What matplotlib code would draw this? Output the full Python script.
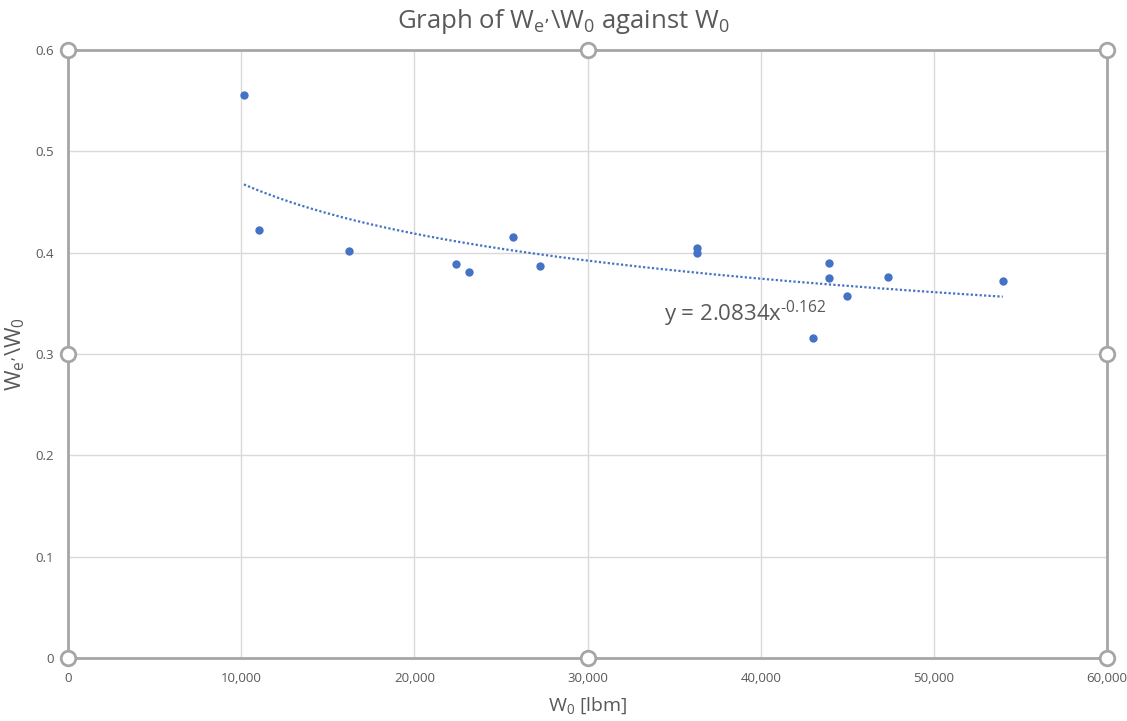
import numpy as np
import matplotlib
matplotlib.use("Agg")
import matplotlib.pyplot as plt
from matplotlib.ticker import FuncFormatter

plt.rcParams['font.family'] = ['Open Sans', 'DejaVu Sans']
plt.rcParams['mathtext.default'] = 'regular'

# Data (W0 in lbm, We'/W0 ratio)
w0 = [10160, 11030, 16230, 22410, 23160, 25700, 27260, 36320, 36320,
      43020, 43950, 43950, 44970, 47350, 53980]
ratio = [0.556, 0.422, 0.402, 0.389, 0.381, 0.415, 0.387, 0.405, 0.400,
         0.316, 0.390, 0.375, 0.357, 0.376, 0.372]

# Power trendline coefficients shown on the chart
coef_a = 2.0834
coef_b = -0.162

x_ticks = [0, 10000, 20000, 30000, 40000, 50000, 60000]
y_ticks = [0, 0.1, 0.2, 0.3, 0.4, 0.5, 0.6]

txt = '#595959'
blue = '#4472C4'

fig = plt.figure(figsize=(11.27, 7.21), dpi=100)
ax = fig.add_axes([68/1127, 1-658/721, (1107-68)/1127, (658-50)/721])

ax.set_xlim(0, 60000)
ax.set_ylim(0, 0.6)
ax.set_xticks(x_ticks)
ax.set_yticks(y_ticks)
ax.xaxis.set_major_formatter(FuncFormatter(lambda v, p: f"{int(v):,}"))
ax.yaxis.set_major_formatter(FuncFormatter(lambda v, p: f"{v:g}"))
ax.grid(True, color='#D9D9D9', linewidth=1)
ax.set_axisbelow(True)
ax.tick_params(length=0, labelsize=9.5, labelcolor=txt, pad=10)

for s in ax.spines.values():
    s.set_color('#A6A6A6')
    s.set_linewidth(2)

# trendline
xs = np.linspace(min(w0), max(w0), 200)
ax.plot(xs, coef_a * xs ** coef_b, color=blue, linestyle=(0, (1, 1)), linewidth=1.6)

ax.scatter(w0, ratio, s=36, color=blue, zorder=3, linewidths=0)

ax.text(34400, 0.3395, "y = 2.0834x$^{\u2010" + "0.162}$", fontsize=16, color=txt,
        va='center', ha='left')

sub = "$_{e\u2019}$"
fig.text(0.5, 1 - 21/721, "Graph of W" + sub + "\\W$_0$ against W$_0$", fontsize=18.5,
         color=txt, ha='center', va='center')
ax.set_xlabel("W$_0$ [lbm]", fontsize=14, color=txt, labelpad=8)
ax.set_ylabel("W" + sub + "\\W$_0$", fontsize=16, color=txt, labelpad=6)

# selection handles
hx = [0, 0.5, 1, 0, 1, 0, 0.5, 1]
hy = [0, 0, 0, 0.5, 0.5, 1, 1, 1]
ax.scatter(hx, hy, transform=ax.transAxes, s=110, facecolor='white',
           edgecolor='#A6A6A6', linewidths=2, zorder=5, clip_on=False)

fig.savefig("out.png", dpi=100)
